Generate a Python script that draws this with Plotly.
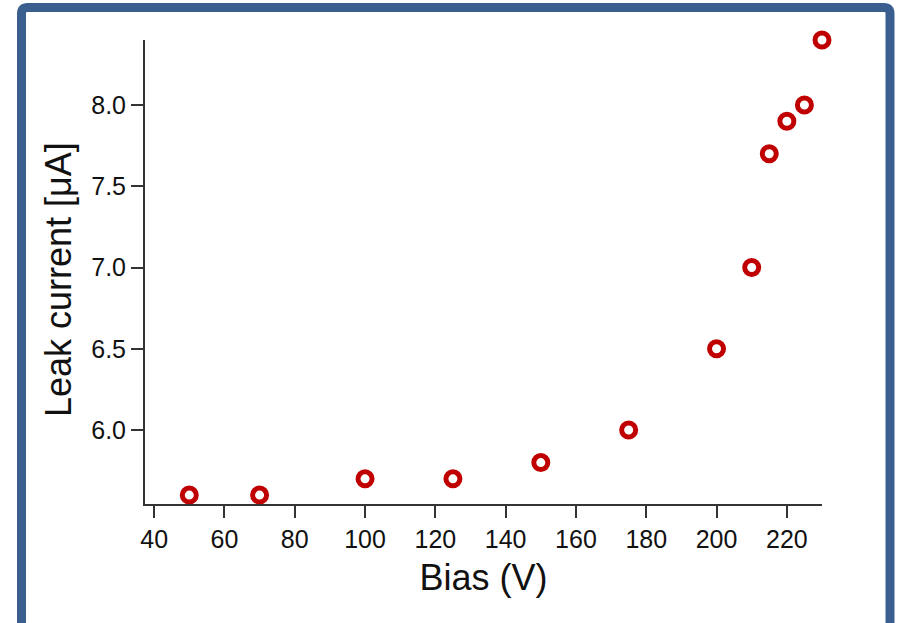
import plotly.graph_objects as go

bias_v = [50, 70, 100, 125, 150, 175, 200, 210, 215, 220, 225, 230]
leak_ua = [5.6, 5.6, 5.7, 5.7, 5.8, 6.0, 6.5, 7.0, 7.7, 7.9, 8.0, 8.4]
x_ticks = [40, 60, 80, 100, 120, 140, 160, 180, 200, 220]
y_ticks = [6.0, 6.5, 7.0, 7.5, 8.0]
y_tick_labels = ["6.0", "6.5", "7.0", "7.5", "8.0"]

W, H = 897, 623
ML, MR, MT, MB = 145, 75, 40, 119
PW, PH = W - ML - MR, H - MT - MB

def px(x):
    return (x - ML) / PW

def py(y):
    return 1 - (y - MT) / PH

fig = go.Figure()
fig.add_trace(go.Scatter(
    x=bias_v, y=leak_ua, mode="markers",
    marker=dict(symbol="circle-open", size=14, color="#C00000",
                line=dict(width=5, color="#C00000")),
    cliponaxis=False, showlegend=False,
))

# rounded frame
L, R, T, B, r = 21.5, 890, 7.5, 640, 6
path = (f"M {px(L+r)},{py(T)} L {px(R-r)},{py(T)} Q {px(R)},{py(T)} {px(R)},{py(T+r)} "
        f"L {px(R)},{py(B-r)} Q {px(R)},{py(B)} {px(R-r)},{py(B)} "
        f"L {px(L+r)},{py(B)} Q {px(L)},{py(B)} {px(L)},{py(B-r)} "
        f"L {px(L)},{py(T+r)} Q {px(L)},{py(T)} {px(L+r)},{py(T)} Z")
fig.add_shape(type="path", path=path, xref="paper", yref="paper",
              line=dict(color="#3A5F8E", width=9), layer="below")

font_family = "Liberation Sans, Arial, sans-serif"

fig.add_annotation(text="Leak current [μA]", textangle=-90, showarrow=False,
                   xref="paper", yref="paper", x=px(58), y=py(280),
                   xanchor="center", yanchor="middle",
                   font=dict(size=36, family=font_family, color="#111111"))

fig.update_layout(
    width=W, height=H,
    margin=dict(l=ML, r=MR, t=MT, b=MB),
    paper_bgcolor="white", plot_bgcolor="white",
    font=dict(family=font_family, color="#111111"),
    xaxis=dict(range=[37.4, 230], tickvals=x_ticks, ticks="outside", ticklen=12,
               tickwidth=1.5, tickcolor="#333333", showline=True, linecolor="#333333",
               linewidth=2, showgrid=False, zeroline=False,
               tickfont=dict(size=25, family=font_family, color="#111111"),
               title=dict(text="Bias (V)", font=dict(size=36, family=font_family, color="#111111"),
                          standoff=13)),
    yaxis=dict(range=[5.545, 8.4], tickvals=y_ticks, ticktext=y_tick_labels, ticks="outside",
               ticklen=12, tickwidth=1.5, tickcolor="#333333", showline=True,
               linecolor="#333333", linewidth=2, showgrid=False, zeroline=False,
               tickfont=dict(size=25, family=font_family, color="#111111")),
)

fig.write_html("out.html")
